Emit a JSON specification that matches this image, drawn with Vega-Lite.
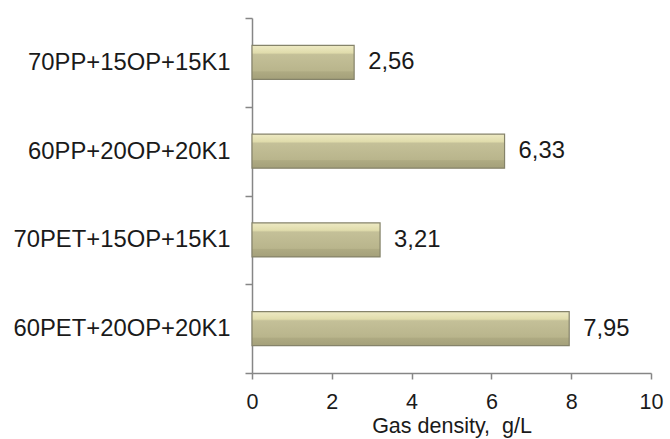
{
  "$schema": "https://vega.github.io/schema/vega-lite/v6.json",
  "width": 399,
  "height": 355,
  "autosize": {"type": "none"},
  "padding": {"left": 252, "top": 18, "right": 19, "bottom": 66},
  "background": "white",
  "config": {
    "locale": {"number": {"decimal": ",", "thousands": " ", "grouping": [3], "currency": ["", ""]}},
    "view": {"stroke": null},
    "font": "Liberation Sans"
  },
  "data": {
    "values": [
      {"mix": "70PP+15OP+15K1", "density": 2.56},
      {"mix": "60PP+20OP+20K1", "density": 6.33},
      {"mix": "70PET+15OP+15K1", "density": 3.21},
      {"mix": "60PET+20OP+20K1", "density": 7.95}
    ]
  },
  "encoding": {
    "y": {
      "field": "mix",
      "type": "nominal",
      "sort": null,
      "scale": {"paddingInner": 0, "paddingOuter": 0},
      "axis": {
        "title": null,
        "tickBand": "extent",
        "labelFontSize": 23.8,
        "labelLimit": 400,
        "labelColor": "#1a1a1a",
        "labelPadding": 15,
        "tickSize": 7,
        "domainColor": "#868686",
        "tickColor": "#868686",
        "domainWidth": 1.5,
        "tickWidth": 1.5,
        "grid": false
      }
    },
    "x": {
      "field": "density",
      "type": "quantitative",
      "scale": {"domain": [0, 10], "nice": false},
      "axis": {
        "title": "Gas density,\u00a0 g/L",
        "values": [0, 2, 4, 6, 8, 10],
        "format": "d",
        "labelFlush": false,
        "labelFontSize": 21.5,
        "labelColor": "#1a1a1a",
        "labelPadding": 12,
        "tickSize": 6,
        "titleFontSize": 21.5,
        "titleFontWeight": "normal",
        "titleColor": "#1a1a1a",
        "titlePadding": 3,
        "domainColor": "#868686",
        "tickColor": "#868686",
        "domainWidth": 1.5,
        "tickWidth": 1.5,
        "grid": false
      }
    }
  },
  "layer": [
    {
      "mark": {
        "type": "bar",
        "size": 34,
        "stroke": "#85836a",
        "strokeWidth": 1.2,
        "color": {
          "gradient": "linear",
          "x1": 0, "y1": 0, "x2": 0, "y2": 1,
          "stops": [
            {"offset": 0, "color": "#eeeac4"},
            {"offset": 0.22, "color": "#e0dcac"},
            {"offset": 0.27, "color": "#c4c098"},
            {"offset": 0.75, "color": "#b9b58c"},
            {"offset": 0.78, "color": "#aeaa82"},
            {"offset": 1, "color": "#a4a07a"}
          ]
        }
      }
    },
    {
      "mark": {"type": "text", "align": "left", "dx": 14, "fontSize": 23.8, "color": "#1a1a1a"},
      "encoding": {
        "text": {"field": "density", "type": "quantitative", "format": ".2f"}
      }
    }
  ]
}
